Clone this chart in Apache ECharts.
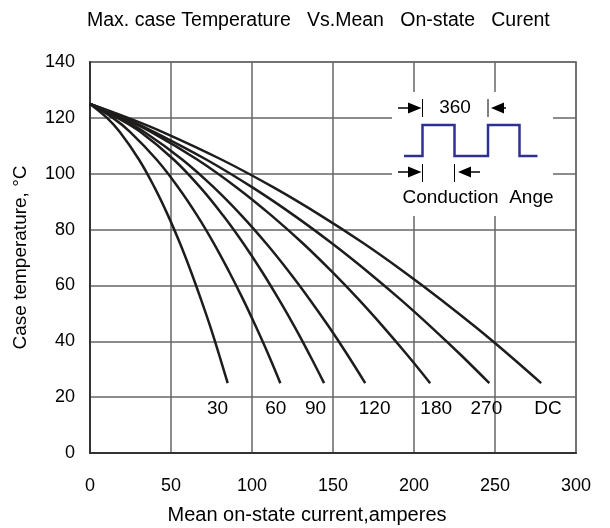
<!DOCTYPE html>
<html>
<head>
<meta charset="utf-8">
<script src="https://cdn.jsdelivr.net/npm/echarts@6/dist/echarts.min.js"></script>
<style>html,body{margin:0;padding:0;background:#fff;}#c{width:610px;height:528px;}</style>
</head>
<body>
<div id="c"></div>
<script>
// Temperature levels (°C) at which each curve's current was read
const temps = [125, 120, 115, 105, 95, 85, 75, 65, 55, 45, 35, 25];
// Mean on-state current (A) for each conduction angle, at the temps above
const cur30  = [0, 10.5, 18.3, 30.3, 39.9, 48.2, 55.6, 62.3, 68.5, 74.4, 79.8, 85];
const cur60  = [0, 14.1, 24.7, 41.2, 54.6, 66.2, 76.5, 85.8, 94.5, 102.6, 110.3, 117.5];
const cur90  = [0, 16.8, 31.0, 51.8, 68.2, 82.2, 94.7, 106.1, 116.6, 126.5, 135.7, 144.5];
const cur120 = [0, 18.2, 33.3, 57.1, 76.6, 93.6, 108.8, 122.7, 135.6, 147.7, 159.1, 169.9];
const cur180 = [0, 19.8, 37.6, 66.4, 90.7, 112.1, 131.5, 149.2, 165.8, 181.3, 196.0, 210];
const cur270 = [0, 21.2, 39.4, 72.0, 100.5, 126.1, 149.5, 171.2, 191.6, 210.8, 229.1, 246.5];
const curDC  = [0, 23.5, 44.6, 81.4, 113.6, 142.5, 169.1, 193.5, 216.5, 238.2, 258.8, 278.5];
const curveNames = ['30', '60', '90', '120', '180', '270', 'DC'];
// Curve label positions (current A, temperature °C)
const labelX = [79, 115, 139.5, 176, 214, 245, 283];
const labelY = [15.8, 15.8, 15.8, 15.8, 15.8, 15.8, 15.8];
const xTicks = [0, 50, 100, 150, 200, 250, 300];
const yTicks = [0, 20, 40, 60, 80, 100, 120, 140];

const curves = [cur30, cur60, cur90, cur120, cur180, cur270, curDC];
const FONT = '"Liberation Sans", Arial, sans-serif';

const chart = echarts.init(document.getElementById('c'), null, {renderer: 'canvas'});

const series = curves.map((arr, i) => ({
  name: curveNames[i],
  type: 'line',
  smooth: 0.4,
  showSymbol: false,
  symbol: 'none',
  lineStyle: {color: '#1f1c1c', width: 2.5},
  data: arr.map((x, k) => [x, temps[k]]),
  z: 3
}));
series.push({
  type: 'scatter',
  symbol: 'circle',
  symbolSize: 1,
  itemStyle: {color: 'rgba(0,0,0,0)'},
  data: labelX.map((x, i) => ({value: [x, labelY[i]], name: curveNames[i]})),
  label: {show: true, position: [0, 0], align: 'center', verticalAlign: 'middle',
          formatter: p => p.name, color: '#000', opacity: 1,
          fontSize: 19, fontFamily: FONT, textBorderWidth: 0},
  emphasis: {disabled: true},
  z: 4
});

chart.setOption({
  animation: false,
  backgroundColor: '#fff',
  title: {
    text: 'Max. case Temperature   Vs.Mean   On-state   Curent',
    left: 82, top: 6,
    textStyle: {fontSize: 19.5, fontWeight: 'normal', color: '#000', fontFamily: FONT}
  },
  grid: {left: 90, right: 34, top: 62, bottom: 75, show: true, containLabel: false,
         outerBoundsMode: 'none',
         borderColor: '#9a9a9a', borderWidth: 2, backgroundColor: 'transparent'},
  xAxis: {
    type: 'value', min: 0, max: 300, interval: 50,
    name: 'Mean on-state current,amperes', nameLocation: 'middle', nameGap: 52,
    nameTextStyle: {fontSize: 20, color: '#000', fontFamily: FONT, padding: [0, 52, 0, 0]},
    axisLine: {show: true, lineStyle: {color: '#333', width: 2}},
    axisTick: {show: false},
    axisLabel: {fontSize: 18, color: '#000', margin: 24, fontFamily: FONT,
                formatter: v => xTicks.includes(v) ? String(v) : ''},
    splitLine: {show: true, lineStyle: {color: '#666', width: 1.5}}
  },
  yAxis: {
    type: 'value', min: 0, max: 140, interval: 20,
    name: 'Case temperature, °C', nameLocation: 'middle', nameGap: 60,
    nameTextStyle: {fontSize: 19, color: '#000', fontFamily: FONT},
    axisLine: {show: true, lineStyle: {color: '#333', width: 2}},
    axisTick: {show: false},
    axisLabel: {fontSize: 18, color: '#000', margin: 15, fontFamily: FONT,
                formatter: v => yTicks.includes(v) ? String(v) : ''},
    splitLine: {show: true, lineStyle: {color: '#666', width: 1.5}}
  },
  graphic: [
    {type: 'rect', shape: {x: 392, y: 92, width: 161, height: 124}, style: {fill: '#fff'}, z: 10},
    // upper arrows / bars
    {type: 'line', shape: {x1: 398, y1: 108, x2: 411, y2: 108}, style: {stroke: '#000', lineWidth: 1.5}, z: 11},
    {type: 'polygon', shape: {points: [[421.5, 108], [408, 102.5], [408, 113.5]]}, style: {fill: '#000'}, z: 11},
    {type: 'line', shape: {x1: 422.5, y1: 99, x2: 422.5, y2: 117}, style: {stroke: '#000', lineWidth: 1}, z: 11},
    {type: 'line', shape: {x1: 488, y1: 99, x2: 488, y2: 117}, style: {stroke: '#000', lineWidth: 1}, z: 11},
    {type: 'polygon', shape: {points: [[491, 108], [504, 102.5], [504, 113.5]]}, style: {fill: '#000'}, z: 11},
    {type: 'line', shape: {x1: 502, y1: 108, x2: 506, y2: 108}, style: {stroke: '#000', lineWidth: 1.5}, z: 11},
    {type: 'text', style: {text: '360', x: 455, y: 108, textAlign: 'center', textVerticalAlign: 'middle',
      fontSize: 19, fontFamily: FONT, fill: '#000'}, z: 11},
    // square wave
    {type: 'polyline', shape: {points: [[404, 156], [422.5, 156], [422.5, 125], [454.5, 125], [454.5, 156],
      [488, 156], [488, 125], [519.5, 125], [519.5, 156], [537.5, 156]]},
      style: {stroke: '#2e3192', lineWidth: 2.5, fill: null}, z: 11},
    // lower arrows / bars
    {type: 'line', shape: {x1: 398, y1: 172, x2: 411, y2: 172}, style: {stroke: '#000', lineWidth: 1.5}, z: 11},
    {type: 'polygon', shape: {points: [[421.5, 172], [408, 166.5], [408, 177.5]]}, style: {fill: '#000'}, z: 11},
    {type: 'line', shape: {x1: 422.5, y1: 164, x2: 422.5, y2: 182}, style: {stroke: '#000', lineWidth: 1}, z: 11},
    {type: 'line', shape: {x1: 454.5, y1: 164, x2: 454.5, y2: 182}, style: {stroke: '#000', lineWidth: 1}, z: 11},
    {type: 'polygon', shape: {points: [[458, 172], [471, 166.5], [471, 177.5]]}, style: {fill: '#000'}, z: 11},
    {type: 'line', shape: {x1: 469, y1: 172, x2: 480, y2: 172}, style: {stroke: '#000', lineWidth: 1.5}, z: 11},
    {type: 'text', style: {text: 'Conduction  Ange', x: 478, y: 198, textAlign: 'center', textVerticalAlign: 'middle',
      fontSize: 19, fontFamily: FONT, fill: '#000'}, z: 11}
  ],
  series: series
});
</script>
</body>
</html>
